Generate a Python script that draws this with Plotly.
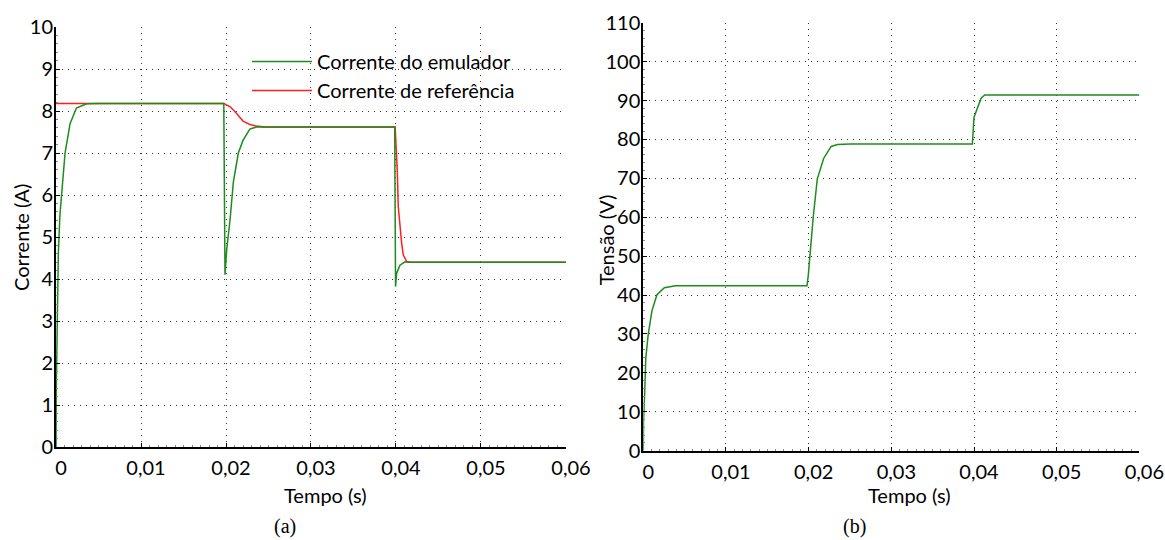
import plotly.graph_objects as go

# ---------------- data ----------------
# (a) Corrente do emulador (A)
t_emul = [0, 0.00002, 0.00015, 0.00027, 0.00045, 0.00067, 0.00106, 0.00165, 0.0024, 0.0036, 0.0050,
          0.01974, 0.01982, 0.01988, 0.02008, 0.02047, 0.02086, 0.02145, 0.0220, 0.0228, 0.0236, 0.0245,
          0.03985, 0.03990, 0.03995, 0.04008, 0.04047, 0.04106, 0.0415, 0.06]
i_emul = [0, 1.2, 3.0, 4.6, 5.5, 6.1, 7.0, 7.7, 8.07, 8.17, 8.18,
          8.18, 6.0, 4.1, 4.7, 5.4, 6.3, 7.0, 7.3, 7.57, 7.62, 7.62,
          7.62, 5.6, 3.82, 4.14, 4.33, 4.41, 4.40, 4.40]

# (a) Corrente de referência (A)
t_ref = [0, 0.01974, 0.0200, 0.0205, 0.02125, 0.0220, 0.0228, 0.0236, 0.0245,
         0.0399, 0.0400, 0.04015, 0.04027, 0.04047, 0.04067, 0.04086, 0.04125, 0.0418, 0.06]
i_ref = [8.18, 8.18, 8.15, 8.10, 7.94, 7.76, 7.68, 7.64, 7.62,
         7.62, 7.20, 6.60, 5.72, 5.25, 4.85, 4.57, 4.42, 4.40, 4.40]

# (b) Tensão (V)
t_volt = [0, 0.00003, 0.00015, 0.0003, 0.0006, 0.00105, 0.00165, 0.00255, 0.0039,
          0.0198, 0.01995, 0.02013, 0.02055, 0.02104, 0.02181, 0.02272, 0.0235, 0.0250,
          0.0398, 0.0400, 0.04050, 0.04086, 0.0413, 0.06]
v_volt = [0, 8, 14, 23.8, 30, 36, 40.1, 41.9, 42.4,
          42.4, 45.0, 50.3, 60.0, 69.8, 75.1, 78.2, 78.7, 78.8,
          78.8, 85.7, 88.4, 90.6, 91.4, 91.4]

x_tickvals = [0, 0.01, 0.02, 0.03, 0.04, 0.05, 0.06]
x_ticktext = ["0", "0,01", "0,02", "0,03", "0,04", "0,05", "0,06"]
ya_tickvals = [0, 1, 2, 3, 4, 5, 6, 7, 8, 9, 10]
ya_ticktext = ["0", "1", "2", "3", "4", "5", "6", "7", "8", "9", "10"]
yb_tickvals = [0, 10, 20, 30, 40, 50, 60, 70, 80, 90, 100, 110]
yb_ticktext = ["0", "10", "20", "30", "40", "50", "60", "70", "80", "90", "100", "110"]

# ---------------- style ----------------
GREEN = "#1c8c1c"
RED = "#ff1f1f"
FONT = "Lato"
FS = 20

fig = go.Figure()
fig.add_trace(go.Scatter(x=t_ref, y=i_ref, mode="lines", name="Corrente de referência",
                         line=dict(color=RED, width=1.5), xaxis="x", yaxis="y"))
fig.add_trace(go.Scatter(x=t_emul, y=i_emul, mode="lines", name="Corrente do emulador",
                         line=dict(color=GREEN, width=1.5), xaxis="x", yaxis="y"))
fig.add_trace(go.Scatter(x=t_volt, y=v_volt, mode="lines", name="Tensão",
                         line=dict(color=GREEN, width=1.5), xaxis="x2", yaxis="y2",
                         showlegend=False))

common = dict(showline=True, linecolor="black", linewidth=2, showgrid=True,
              gridcolor="#333333", gridwidth=1, griddash="1px,5px", zeroline=False,
              ticks="inside", ticklen=4, tickcolor="black", tickwidth=1,
              automargin=False,
              tickfont=dict(family=FONT, size=FS, color="black"))

xcommon = dict(common, range=[0, 0.06], tickvals=x_tickvals, ticktext=x_ticktext,
               ticklabelshift=5, ticklabelstandoff=2,
               minor=dict(dtick=0.001, ticks="inside", ticklen=2, tickcolor="#888888",
                          showgrid=False))

ann_font = dict(family=FONT, size=FS, color="black")
fig.update_layout(
    template="none",
    width=1165, height=540,
    margin=dict(l=0, r=0, t=0, b=0, pad=0),
    paper_bgcolor="white", plot_bgcolor="white",
    font=dict(family=FONT, size=FS, color="black"),
    xaxis=dict(xcommon, domain=[0.0481, 0.4858], anchor="y"),
    yaxis=dict(common, domain=[0.1722, 0.95], anchor="x", range=[0, 10],
               tickvals=ya_tickvals, ticktext=ya_ticktext, ticklabelstandoff=-3,
               minor=dict(dtick=0.2, ticks="inside", ticklen=2, tickcolor="#888888",
                          showgrid=False)),
    xaxis2=dict(xcommon, domain=[0.5522, 0.978], anchor="y2"),
    yaxis2=dict(common, domain=[0.1654, 0.958], anchor="x2", range=[0, 110],
                tickvals=yb_tickvals, ticktext=yb_ticktext, ticklabelstandoff=-3,
                minor=dict(dtick=2, ticks="inside", ticklen=2, tickcolor="#888888",
                           showgrid=False)),
    showlegend=True,
    legend=dict(x=0.212, y=0.922, xanchor="left", yanchor="top",
                bgcolor="rgba(0,0,0,0)", traceorder="reversed",
                font=dict(family=FONT, size=FS, color="black"),
                itemwidth=60, tracegroupgap=0),
    annotations=[
        dict(text="Corrente (A)", x=0.018, y=0.561, textangle=-90, font=ann_font),
        dict(text="Tensão (V)", x=0.5205, y=0.5556, textangle=-90, font=ann_font),
        dict(text="Tempo (s)", x=0.2798, y=0.084, font=ann_font),
        dict(text="Tempo (s)", x=0.7803, y=0.084, font=ann_font),
        dict(text="(a)", x=0.2446, y=0.0259,
             font=dict(family="Liberation Serif", size=20, color="black")),
        dict(text="(b)", x=0.7339, y=0.0259,
             font=dict(family="Liberation Serif", size=20, color="black")),
    ],
)
fig.update_annotations(xref="paper", yref="paper", showarrow=False,
                       xanchor="center", yanchor="middle")

fig.write_html("out.html", config={"displayModeBar": False},
               post_script="document.body.style.margin='0';document.body.style.overflow='hidden';")
